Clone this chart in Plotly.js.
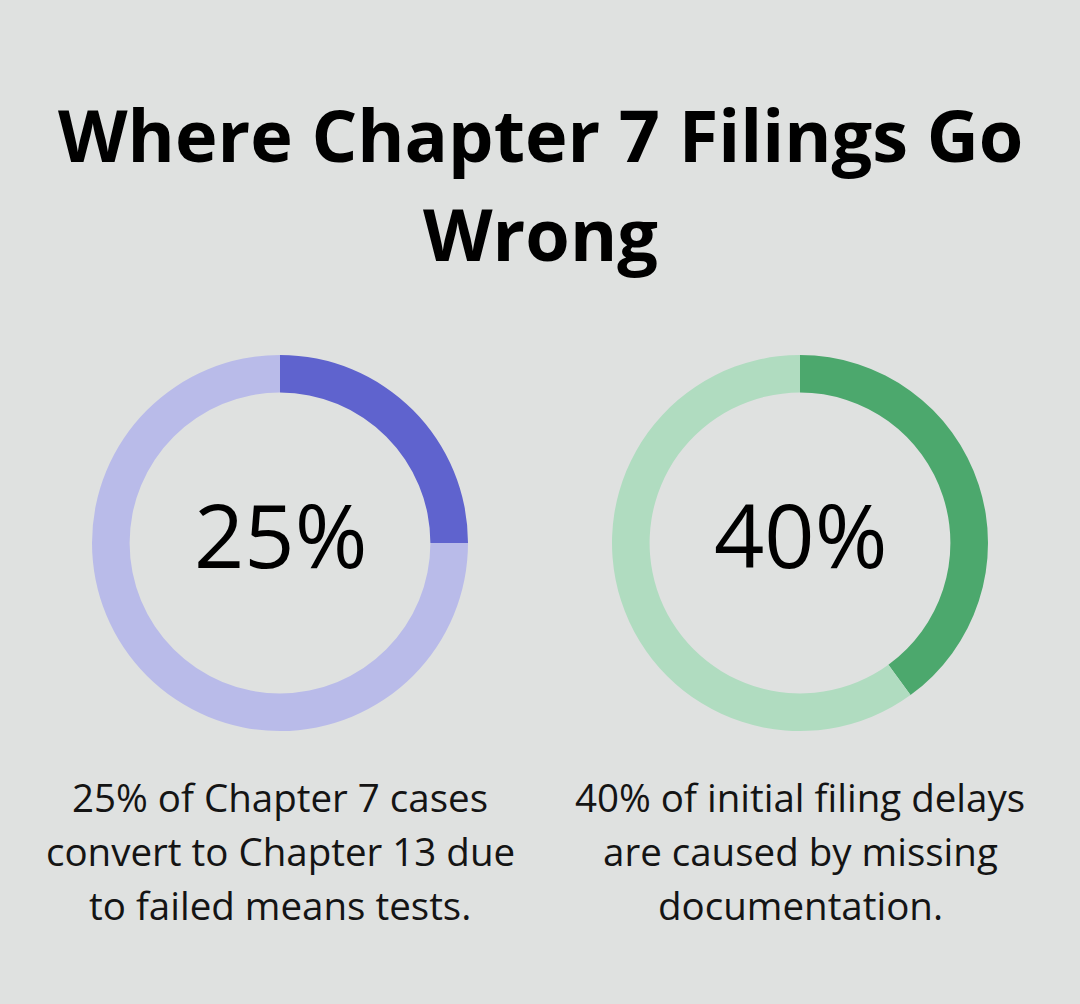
<!DOCTYPE html>
<html>
<head>
<meta charset="utf-8">
<script src="https://cdn.plot.ly/plotly-3.0.1.min.js"></script>
<style>
  html, body { margin: 0; padding: 0; background: #dfe1e0; }
  #chart { width: 1080px; height: 1004px; }
</style>
</head>
<body>
<div id="chart"></div>
<script>
// data
var titleLines = ['Where Chapter 7 Filings Go', 'Wrong'];
var percents = [25, 40];
var centerLabels = ['25%', '40%'];
var captions = [
  ['25% of Chapter 7 cases', 'convert to Chapter 13 due', 'to failed means tests.'],
  ['40% of initial filing delays', 'are caused by missing', 'documentation.']
];
var darkColors = ['#5f63ce', '#4ca86d'];
var lightColors = ['#b9bbe9', '#b0dcc0'];

var W = 1080, H = 1004;
// pixel -> paper helpers
function px(x) { return x / W; }
function py(y) { return 1 - y / H; }

var centersX = [280, 800];
var centerY = 543;
var R = 188;

var traces = percents.map(function (p, i) {
  var cx = centersX[i];
  return {
    type: 'pie',
    values: [p, 100 - p],
    labels: ['share', 'rest'],
    marker: { colors: [darkColors[i], lightColors[i]], line: { width: 0 } },
    hole: 0.8,
    sort: false,
    direction: 'clockwise',
    rotation: 0,
    textinfo: 'none',
    hoverinfo: 'none',
    showlegend: false,
    domain: { x: [px(cx - R), px(cx + R)], y: [py(centerY + R), py(centerY - R)] }
  };
});

var annotations = [];
// title, one annotation per line so the line gap matches
titleLines.forEach(function (line, j) {
  annotations.push({
    text: line, x: 0.5, y: py(134 + j * 99), xref: 'paper', yref: 'paper',
    xanchor: 'center', yanchor: 'middle', showarrow: false,
    font: { family: 'Open Sans', size: 72, color: '#000000', weight: 700 }
  });
});
centerLabels.forEach(function (t, i) {
  annotations.push({
    text: t, x: px(centersX[i]), y: py(534), xref: 'paper', yref: 'paper',
    xanchor: 'center', yanchor: 'middle', showarrow: false,
    font: { family: 'Open Sans', size: 88, color: '#000000' }
  });
});
captions.forEach(function (lines, i) {
  lines.forEach(function (line, j) {
    annotations.push({
      text: line, x: px(centersX[i]), y: py(797 + j * 54), xref: 'paper', yref: 'paper',
      xanchor: 'center', yanchor: 'middle', showarrow: false,
      font: { family: 'Open Sans', size: 38.5, color: '#141414' }
    });
  });
});

Plotly.newPlot('chart', traces, {
  width: W, height: H,
  margin: { l: 0, r: 0, t: 0, b: 0 },
  paper_bgcolor: '#dfe1e0',
  plot_bgcolor: '#dfe1e0',
  annotations: annotations
}, { displayModeBar: false, staticPlot: true });
</script>
</body>
</html>
